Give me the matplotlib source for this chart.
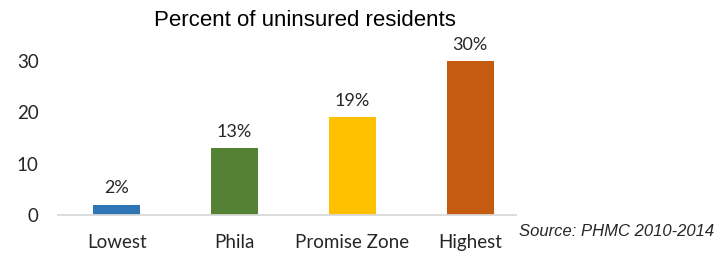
import matplotlib
matplotlib.use("Agg")
import matplotlib.pyplot as plt

categories = ["Lowest", "Phila", "Promise Zone", "Highest"]
values = [2, 13, 19, 30]
bar_labels = ["2%", "13%", "19%", "30%"]
colors = ["#2E75B6", "#548235", "#FFC000", "#C55A11"]
yticks = [0, 10, 20, 30]

fig = plt.figure(figsize=(7.19, 2.54), dpi=100)
ax = fig.add_axes([58/719, 39/254, 458/719, 179.7/254])

x = range(len(categories))
bars = ax.bar(x, values, width=0.4, color=colors, edgecolor="none")
for xi, v, lab in zip(x, values, bar_labels):
    ax.annotate(lab, (xi, v), xytext=(0, 6), textcoords="offset points",
                ha="center", va="bottom", fontsize=13, family="Lato", color="#262626")

ax.set_xlim(-0.5, 3.39)
ax.set_ylim(0, 35)
ax.set_yticks(yticks)
ax.set_yticklabels([str(t) for t in yticks], fontsize=13.5, family="Lato", color="#262626")
ax.set_xticks(list(x))
ax.set_xticklabels(categories, fontsize=13.5, family="Lato", color="#262626")
ax.tick_params(axis="y", length=0, pad=14)
ax.tick_params(axis="x", length=0, pad=14)
for s in ["top", "right", "left"]:
    ax.spines[s].set_visible(False)
ax.spines["bottom"].set_color("#D9D9D9")
ax.spines["bottom"].set_linewidth(1.3)

fig.text(305/719, 1 - 20/254, "Percent of uninsured residents", ha="center", va="center",
         fontsize=16, family="Liberation Sans", color="#000000")
fig.text(714/719, 1 - 232/254, "Source: PHMC 2010-2014", ha="right", va="center",
         fontsize=12, family="Liberation Sans", style="italic", color="#262626")

fig.savefig("out.png", dpi=100)
